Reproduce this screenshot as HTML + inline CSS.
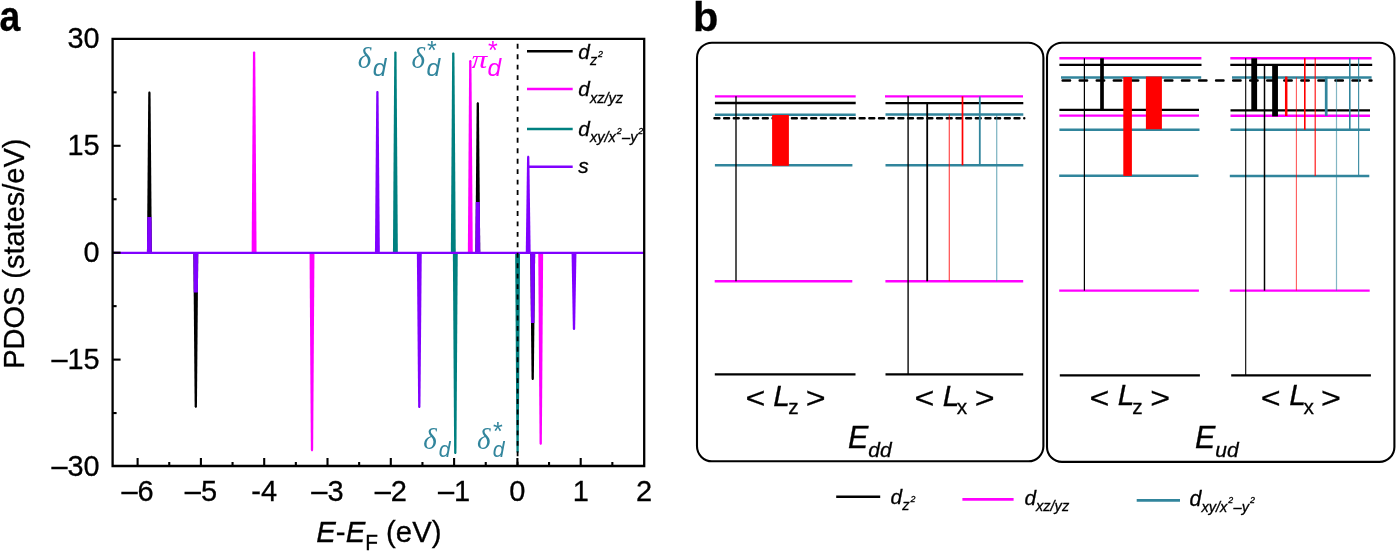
<!DOCTYPE html>
<html lang="en">
<head>
<meta charset="utf-8">
<title>PDOS and orbital angular momentum matrix elements</title>
<style>
html,body{margin:0;padding:0;background:#ffffff;}
body{width:1396px;height:551px;overflow:hidden;}
svg{display:block;}
svg{font-family:"Liberation Sans",sans-serif;fill:#000;}
</style>
</head>
<body>
<svg width="1396" height="551" viewBox="0 0 1396 551">
<rect x="0" y="0" width="1396" height="551" fill="#ffffff"/>
<g id="panel-a">
<polygon points="146.95,252.70 148.25,92.80 148.75,91.60 150.05,91.60 150.55,92.80 151.85,252.70" fill="#000000"/>
<polygon points="475.35,252.70 476.65,103.50 477.15,102.30 478.45,102.30 478.95,103.50 480.25,252.70" fill="#000000"/>
<polygon points="193.35,252.70 194.65,406.50 195.15,407.70 196.45,407.70 196.95,406.50 198.25,252.70" fill="#000000"/>
<polygon points="530.25,252.70 531.55,378.80 532.05,380.00 533.35,380.00 533.85,378.80 535.15,252.70" fill="#000000"/>
<polygon points="251.65,252.70 252.95,52.60 253.45,51.40 254.75,51.40 255.25,52.60 256.55,252.70" fill="#ff00ff"/>
<polygon points="467.85,252.70 469.15,61.20 469.65,60.00 470.95,60.00 471.45,61.20 472.75,252.70" fill="#ff00ff"/>
<polygon points="309.55,252.70 310.85,450.10 311.35,451.30 312.65,451.30 313.15,450.10 314.45,252.70" fill="#ff00ff"/>
<polygon points="538.25,252.70 539.55,443.50 540.05,444.70 541.35,444.70 541.85,443.50 543.15,252.70" fill="#ff00ff"/>
<polygon points="392.95,252.70 394.25,52.60 394.75,51.40 396.05,51.40 396.55,52.60 397.85,252.70" fill="#008080"/>
<polygon points="450.85,252.70 452.15,53.60 452.65,52.40 453.95,52.40 454.45,53.60 455.75,252.70" fill="#008080"/>
<polygon points="452.85,252.70 454.15,452.80 454.65,454.00 455.95,454.00 456.45,452.80 457.75,252.70" fill="#008080"/>
<polygon points="515.15,252.70 516.45,451.70 516.95,452.90 518.25,452.90 518.75,451.70 520.05,252.70" fill="#008080"/>
<polygon points="146.95,252.70 147.24,217.00 151.56,217.00 151.85,252.70" fill="#8000ff"/>
<polygon points="475.35,252.70 475.79,202.00 479.81,202.00 480.25,252.70" fill="#8000ff"/>
<polygon points="374.95,252.70 376.25,92.10 376.75,90.90 378.05,90.90 378.55,92.10 379.85,252.70" fill="#8000ff"/>
<polygon points="525.75,252.70 527.05,157.00 527.55,155.80 528.85,155.80 529.35,157.00 530.65,252.70" fill="#8000ff"/>
<polygon points="193.35,252.70 193.69,292.50 197.91,292.50 198.25,252.70" fill="#8000ff"/>
<polygon points="530.25,252.70 530.97,323.00 534.43,323.00 535.15,252.70" fill="#8000ff"/>
<polygon points="416.85,252.70 418.15,406.80 418.65,408.00 419.95,408.00 420.45,406.80 421.75,252.70" fill="#8000ff"/>
<polygon points="571.55,252.70 572.85,328.80 573.35,330.00 574.65,330.00 575.15,328.80 576.45,252.70" fill="#8000ff"/>
<line x1="112.6" y1="252.79999999999998" x2="644.2" y2="252.79999999999998" stroke="#8000ff" stroke-width="2.2"/>
<line x1="517.6" y1="43.8" x2="517.6" y2="466.0" stroke="#000" stroke-width="1.8" stroke-dasharray="4.9 5.55"/>
<path d="M112.6,466.0 L112.6,38.8 L644.2,38.8 L644.2,466.0 Z" fill="none" stroke="#000" stroke-width="2.3"/>
<line x1="137.60" y1="466.0" x2="137.60" y2="458.0" stroke="#000" stroke-width="2.1"/>
<line x1="200.90" y1="466.0" x2="200.90" y2="458.0" stroke="#000" stroke-width="2.1"/>
<line x1="264.20" y1="466.0" x2="264.20" y2="458.0" stroke="#000" stroke-width="2.1"/>
<line x1="327.50" y1="466.0" x2="327.50" y2="458.0" stroke="#000" stroke-width="2.1"/>
<line x1="390.80" y1="466.0" x2="390.80" y2="458.0" stroke="#000" stroke-width="2.1"/>
<line x1="454.10" y1="466.0" x2="454.10" y2="458.0" stroke="#000" stroke-width="2.1"/>
<line x1="517.40" y1="466.0" x2="517.40" y2="458.0" stroke="#000" stroke-width="2.1"/>
<line x1="580.70" y1="466.0" x2="580.70" y2="458.0" stroke="#000" stroke-width="2.1"/>
<line x1="169.25" y1="466.0" x2="169.25" y2="462.0" stroke="#000" stroke-width="2.1"/>
<line x1="232.55" y1="466.0" x2="232.55" y2="462.0" stroke="#000" stroke-width="2.1"/>
<line x1="295.85" y1="466.0" x2="295.85" y2="462.0" stroke="#000" stroke-width="2.1"/>
<line x1="359.15" y1="466.0" x2="359.15" y2="462.0" stroke="#000" stroke-width="2.1"/>
<line x1="422.45" y1="466.0" x2="422.45" y2="462.0" stroke="#000" stroke-width="2.1"/>
<line x1="485.75" y1="466.0" x2="485.75" y2="462.0" stroke="#000" stroke-width="2.1"/>
<line x1="549.05" y1="466.0" x2="549.05" y2="462.0" stroke="#000" stroke-width="2.1"/>
<line x1="612.35" y1="466.0" x2="612.35" y2="462.0" stroke="#000" stroke-width="2.1"/>
<line x1="112.6" y1="359.61" x2="120.6" y2="359.61" stroke="#000" stroke-width="2.1"/>
<line x1="112.6" y1="252.70" x2="120.6" y2="252.70" stroke="#000" stroke-width="2.1"/>
<line x1="112.6" y1="145.79" x2="120.6" y2="145.79" stroke="#000" stroke-width="2.1"/>
<line x1="112.6" y1="413.06" x2="116.6" y2="413.06" stroke="#000" stroke-width="2.1"/>
<line x1="112.6" y1="306.15" x2="116.6" y2="306.15" stroke="#000" stroke-width="2.1"/>
<line x1="112.6" y1="199.25" x2="116.6" y2="199.25" stroke="#000" stroke-width="2.1"/>
<line x1="112.6" y1="92.34" x2="116.6" y2="92.34" stroke="#000" stroke-width="2.1"/>
<text x="137.60" y="500.8" font-size="29.0" text-anchor="middle" stroke="#000" stroke-width="0.3">–6</text>
<text x="200.90" y="500.8" font-size="29.0" text-anchor="middle" stroke="#000" stroke-width="0.3">–5</text>
<text x="264.20" y="500.8" font-size="29.0" text-anchor="middle" stroke="#000" stroke-width="0.3">-4</text>
<text x="327.50" y="500.8" font-size="29.0" text-anchor="middle" stroke="#000" stroke-width="0.3">–3</text>
<text x="390.80" y="500.8" font-size="29.0" text-anchor="middle" stroke="#000" stroke-width="0.3">–2</text>
<text x="454.10" y="500.8" font-size="29.0" text-anchor="middle" stroke="#000" stroke-width="0.3">–1</text>
<text x="517.40" y="500.8" font-size="29.0" text-anchor="middle" stroke="#000" stroke-width="0.3">0</text>
<text x="580.70" y="500.8" font-size="29.0" text-anchor="middle" stroke="#000" stroke-width="0.3">1</text>
<text x="644.00" y="500.8" font-size="29.0" text-anchor="middle" stroke="#000" stroke-width="0.3">2</text>
<text transform="translate(99.6,47.80) scale(0.975,1)" font-size="29.6" text-anchor="end" stroke="#000" stroke-width="0.3">30</text>
<text transform="translate(99.6,154.90) scale(0.975,1)" font-size="29.6" text-anchor="end" stroke="#000" stroke-width="0.3">15</text>
<text transform="translate(99.6,262.00) scale(0.975,1)" font-size="29.6" text-anchor="end" stroke="#000" stroke-width="0.3">0</text>
<text transform="translate(99.6,369.10) scale(0.975,1)" font-size="29.6" text-anchor="end" stroke="#000" stroke-width="0.3">–15</text>
<text transform="translate(99.6,476.20) scale(0.975,1)" font-size="29.6" text-anchor="end" stroke="#000" stroke-width="0.3">–30</text>
<text transform="translate(24.2,368.8) rotate(-90) scale(0.953,1)" font-size="30.4" stroke="#000" stroke-width="0.3">PDOS (states/eV)</text>
<text transform="translate(316.3,542) scale(0.965,1)" font-size="30.4" stroke="#000" stroke-width="0.3"><tspan font-style="italic">E</tspan>-<tspan font-style="italic">E</tspan><tspan font-size="21.6" dy="7.8">F</tspan><tspan dy="-7.8"> (eV)</tspan></text>
<text transform="translate(-0.6,31.0) scale(0.9,1.03)" font-size="41.5" font-weight="bold" stroke="#000" stroke-width="0.3">a</text>
<line x1="527" y1="51.3" x2="572.7" y2="51.3" stroke="#000000" stroke-width="2.4"/>
<line x1="527" y1="89.0" x2="572.7" y2="89.0" stroke="#ff00ff" stroke-width="2.4"/>
<line x1="527" y1="129.0" x2="572.7" y2="129.0" stroke="#008080" stroke-width="2.4"/>
<line x1="527" y1="166.7" x2="572.7" y2="166.7" stroke="#8000ff" stroke-width="2.4"/>
<text x="578.3" y="59" font-size="20.8" font-style="italic" stroke="#000" stroke-width="0.3">d<tspan font-size="14.6" dy="6.3">z</tspan><tspan font-size="8.8" dy="-8" dx="0.9">2</tspan></text>
<text x="578.3" y="96.2" font-size="20.8" font-style="italic" stroke="#000" stroke-width="0.3">d<tspan font-size="14.6" dy="6.3">xz/yz</tspan></text>
<text x="578.3" y="135.9" font-size="20.8" font-style="italic" stroke="#000" stroke-width="0.3">d<tspan font-size="14.6" dy="6.3">xy/x</tspan><tspan font-size="8.8" dy="-8" dx="0.9">2</tspan><tspan font-size="14.6" dy="8" dx="0.4">–y</tspan><tspan font-size="8.8" dy="-8" dx="0.9">2</tspan></text>
<text x="578.3" y="173.4" font-size="20.8" font-style="italic" stroke="#000" stroke-width="0.3">s</text>
<text x="357.8" y="67.8" font-family="'Liberation Serif', serif" font-style="italic" font-size="29" fill="#31859c">δ</text>
<text x="372.8" y="76.3" font-size="24.5" font-style="italic" fill="#31859c">d</text>
<text x="411.4" y="67.8" font-family="'Liberation Serif', serif" font-style="italic" font-size="29" fill="#31859c">δ</text>
<text x="426.59999999999997" y="76.3" font-size="24.5" font-style="italic" fill="#31859c">d</text>
<text x="426.9" y="59.4" font-size="25" fill="#31859c">*</text>
<text transform="translate(471.4,67.8) scale(1.08,0.86)" font-family="'Liberation Serif', serif" font-style="italic" font-size="29" fill="#ff00ff">π</text>
<text x="487.59999999999997" y="76.3" font-size="24.5" font-style="italic" fill="#ff00ff">d</text>
<text x="487.9" y="59.4" font-size="25" fill="#ff00ff">*</text>
<text x="423.3" y="448.7" font-family="'Liberation Serif', serif" font-style="italic" font-size="29" fill="#31859c">δ</text>
<text x="438.8" y="456.9" font-size="21.2" font-style="italic" fill="#31859c">d</text>
<text x="477.0" y="448.7" font-family="'Liberation Serif', serif" font-style="italic" font-size="29" fill="#31859c">δ</text>
<text x="492.8" y="456.9" font-size="21.2" font-style="italic" fill="#31859c">d</text>
<text x="493.1" y="439.5" font-size="25" fill="#31859c">*</text>
</g>
<g id="panel-b">
<text x="693.0" y="31.0" font-size="41.5" font-weight="bold" stroke="#000" stroke-width="0.3">b</text>
<rect x="697" y="42.7" width="346.4" height="418.6" rx="15" ry="15" fill="none" stroke="#000" stroke-width="2.1"/>
<rect x="1047" y="42.7" width="347.4" height="419.2" rx="15" ry="15" fill="none" stroke="#000" stroke-width="2.1"/>
<line x1="714.9" y1="96.35" x2="855.7" y2="96.35" stroke="#ff00ff" stroke-width="2.45"/>
<line x1="714.9" y1="103.0" x2="855.7" y2="103.0" stroke="#000000" stroke-width="2.3"/>
<line x1="714.9" y1="114.8" x2="855.7" y2="114.8" stroke="#31859c" stroke-width="2.45"/>
<line x1="714.9" y1="165.2" x2="852.4" y2="165.2" stroke="#31859c" stroke-width="2.45"/>
<line x1="714.7" y1="281.3" x2="852.3" y2="281.3" stroke="#ff00ff" stroke-width="2.45"/>
<line x1="714.8" y1="374.4" x2="855.5" y2="374.4" stroke="#000000" stroke-width="2.3"/>
<line x1="885.0" y1="96.35" x2="1023.0" y2="96.35" stroke="#ff00ff" stroke-width="2.45"/>
<line x1="885.5" y1="103.1" x2="1023.3" y2="103.1" stroke="#000000" stroke-width="2.3"/>
<line x1="885.5" y1="114.5" x2="1023.3" y2="114.5" stroke="#31859c" stroke-width="2.45"/>
<line x1="885.5" y1="165.3" x2="1023.3" y2="165.3" stroke="#31859c" stroke-width="2.45"/>
<line x1="885.4" y1="281.3" x2="1023.2" y2="281.3" stroke="#ff00ff" stroke-width="2.45"/>
<line x1="885.5" y1="374.4" x2="1023.2" y2="374.4" stroke="#000000" stroke-width="2.3"/>
<line x1="714.45" y1="118.3" x2="1024.3" y2="118.3" stroke="#000" stroke-width="2.4" stroke-linecap="round" stroke-dasharray="4.95 4.73"/>
<rect x="772.1" y="115.0" width="16.80" height="50.80" fill="#ff0000"/>
<line x1="736.0" y1="96.35" x2="736.0" y2="281.3" stroke="#000" stroke-width="1.35"/>
<line x1="908.1" y1="96.35" x2="908.1" y2="374.4" stroke="#000" stroke-width="1.35"/>
<line x1="927.2" y1="103.1" x2="927.2" y2="281.3" stroke="#000000" stroke-width="1.8"/>
<line x1="949.3" y1="114.5" x2="949.3" y2="281.3" stroke="#ff0000" stroke-width="1.2" stroke-opacity="0.7"/>
<line x1="962.5" y1="96.35" x2="962.5" y2="165.3" stroke="#ff0000" stroke-width="1.7"/>
<line x1="979.8" y1="96.35" x2="979.8" y2="165.3" stroke="#31859c" stroke-width="1.8"/>
<line x1="996.7" y1="114.5" x2="996.7" y2="281.3" stroke="#31859c" stroke-width="1.3" stroke-opacity="0.6"/>
<line x1="1059.4" y1="58.3" x2="1201.4" y2="58.3" stroke="#ff00ff" stroke-width="2.45"/>
<line x1="1059.4" y1="64.9" x2="1201.5" y2="64.9" stroke="#000000" stroke-width="2.3"/>
<line x1="1061.0" y1="77.4" x2="1201.2" y2="77.4" stroke="#31859c" stroke-width="2.45"/>
<line x1="1059.4" y1="109.8" x2="1199.0" y2="109.8" stroke="#000000" stroke-width="2.3"/>
<line x1="1059.4" y1="115.6" x2="1199.0" y2="115.6" stroke="#ff00ff" stroke-width="2.45"/>
<line x1="1059.4" y1="129.7" x2="1199.5" y2="129.7" stroke="#31859c" stroke-width="2.45"/>
<line x1="1059.2" y1="175.7" x2="1198.5" y2="175.7" stroke="#31859c" stroke-width="2.45"/>
<line x1="1059.2" y1="290.6" x2="1198.9" y2="290.6" stroke="#ff00ff" stroke-width="2.45"/>
<line x1="1059.8" y1="375.3" x2="1199.9" y2="375.3" stroke="#000000" stroke-width="2.3"/>
<line x1="1230.3" y1="58.3" x2="1371.6" y2="58.3" stroke="#ff00ff" stroke-width="2.45"/>
<line x1="1230.3" y1="64.9" x2="1372.2" y2="64.9" stroke="#000000" stroke-width="2.3"/>
<line x1="1232.0" y1="77.5" x2="1371.6" y2="77.5" stroke="#31859c" stroke-width="2.45"/>
<line x1="1230.5" y1="110.3" x2="1370.0" y2="110.3" stroke="#000000" stroke-width="2.3"/>
<line x1="1230.5" y1="115.8" x2="1370.0" y2="115.8" stroke="#ff00ff" stroke-width="2.45"/>
<line x1="1230.5" y1="129.7" x2="1370.0" y2="129.7" stroke="#31859c" stroke-width="2.45"/>
<line x1="1229.8" y1="176.0" x2="1369.3" y2="176.0" stroke="#31859c" stroke-width="2.45"/>
<line x1="1229.8" y1="290.6" x2="1369.7" y2="290.6" stroke="#ff00ff" stroke-width="2.45"/>
<line x1="1231.2" y1="375.3" x2="1370.9" y2="375.3" stroke="#000000" stroke-width="2.3"/>
<line x1="1062.6" y1="80.55" x2="1371.5" y2="80.55" stroke="#000" stroke-width="2.4" stroke-linecap="round" stroke-dasharray="7.5 9.55"/>
<line x1="1084.4" y1="58.3" x2="1084.4" y2="290.6" stroke="#000" stroke-width="1.25"/>
<line x1="1102.0" y1="58.3" x2="1102.0" y2="109.8" stroke="#000000" stroke-width="3.7"/>
<rect x="1123.3" y="77.0" width="8.60" height="98.90" fill="#ff0000"/>
<rect x="1145.9" y="76.5" width="16.00" height="52.70" fill="#ff0000"/>
<line x1="1245.7" y1="58.3" x2="1245.7" y2="375.3" stroke="#000000" stroke-width="1.1"/>
<line x1="1254.2" y1="58.3" x2="1254.2" y2="110.3" stroke="#000000" stroke-width="5.8"/>
<line x1="1264.5" y1="64.9" x2="1264.5" y2="290.6" stroke="#000000" stroke-width="1.5"/>
<line x1="1275.05" y1="64.9" x2="1275.05" y2="116.4" stroke="#000000" stroke-width="5.8"/>
<line x1="1286.2" y1="76.6" x2="1286.2" y2="116.0" stroke="#ff0000" stroke-width="2.5"/>
<line x1="1296.4" y1="77.4" x2="1296.4" y2="290.6" stroke="#ff0000" stroke-width="1.1" stroke-opacity="0.65"/>
<line x1="1304.8" y1="58.3" x2="1304.8" y2="129.7" stroke="#ff0000" stroke-width="1.6"/>
<line x1="1315.2" y1="58.3" x2="1315.2" y2="176.0" stroke="#ff0000" stroke-width="1.2" stroke-opacity="0.9"/>
<line x1="1326.2" y1="76.6" x2="1326.2" y2="116.0" stroke="#31859c" stroke-width="2.7"/>
<line x1="1336.5" y1="77.4" x2="1336.5" y2="290.6" stroke="#31859c" stroke-width="1.2" stroke-opacity="0.6"/>
<line x1="1349.8" y1="58.3" x2="1349.8" y2="129.7" stroke="#31859c" stroke-width="1.6"/>
<line x1="1358.6" y1="58.3" x2="1358.6" y2="176.0" stroke="#31859c" stroke-width="1.2" stroke-opacity="0.9"/>
<text transform="translate(745.50,407.9) scale(1.12,1)" font-size="30.4" stroke="#000" stroke-width="0.3">&lt;</text>
<text x="773.30" y="405.7" font-size="29.8" font-style="italic" stroke="#000" stroke-width="0.3">L</text>
<text x="788.30" y="413.8" font-size="20.8" stroke="#000" stroke-width="0.3">z</text>
<text transform="translate(805.80,407.9) scale(1.12,1)" font-size="30.4" stroke="#000" stroke-width="0.3">&gt;</text>
<text transform="translate(914.60,407.9) scale(1.12,1)" font-size="30.4" stroke="#000" stroke-width="0.3">&lt;</text>
<text x="942.70" y="405.7" font-size="29.8" font-style="italic" stroke="#000" stroke-width="0.3">L</text>
<text x="956.80" y="413.8" font-size="20.8" stroke="#000" stroke-width="0.3">x</text>
<text transform="translate(974.80,407.9) scale(1.12,1)" font-size="30.4" stroke="#000" stroke-width="0.3">&gt;</text>
<text transform="translate(1089.60,407.59999999999997) scale(1.12,1)" font-size="30.4" stroke="#000" stroke-width="0.3">&lt;</text>
<text x="1117.70" y="405.4" font-size="29.8" font-style="italic" stroke="#000" stroke-width="0.3">L</text>
<text x="1132.30" y="413.5" font-size="20.8" stroke="#000" stroke-width="0.3">z</text>
<text transform="translate(1150.20,407.59999999999997) scale(1.12,1)" font-size="30.4" stroke="#000" stroke-width="0.3">&gt;</text>
<text transform="translate(1260.80,407.59999999999997) scale(1.12,1)" font-size="30.4" stroke="#000" stroke-width="0.3">&lt;</text>
<text x="1289.20" y="405.4" font-size="29.8" font-style="italic" stroke="#000" stroke-width="0.3">L</text>
<text x="1303.60" y="413.5" font-size="20.8" stroke="#000" stroke-width="0.3">x</text>
<text transform="translate(1321.10,407.59999999999997) scale(1.12,1)" font-size="30.4" stroke="#000" stroke-width="0.3">&gt;</text>
<text x="848.0" y="448.2" font-size="30.5" font-style="italic" stroke="#000" stroke-width="0.3">E<tspan font-size="21" dy="8.6">dd</tspan></text>
<text x="1195.0" y="448.2" font-size="30.5" font-style="italic" stroke="#000" stroke-width="0.3">E<tspan font-size="21" dy="8.6">ud</tspan></text>
<line x1="836.2" y1="496.8" x2="880.2" y2="496.8" stroke="#000000" stroke-width="2.4"/>
<line x1="962.4" y1="499.4" x2="1013.6" y2="499.4" stroke="#ff00ff" stroke-width="2.6"/>
<line x1="1136.7" y1="500.4" x2="1180.0" y2="500.4" stroke="#31859c" stroke-width="2.6"/>
<text x="890.6" y="503.6" font-size="20.8" font-style="italic" stroke="#000" stroke-width="0.3">d<tspan font-size="14.6" dy="6.1">z</tspan><tspan font-size="8.8" dy="-8" dx="0.9">2</tspan></text>
<text x="1024.4" y="505.1" font-size="20.8" font-style="italic" stroke="#000" stroke-width="0.3">d<tspan font-size="14.6" dy="5.9">xz/yz</tspan></text>
<text x="1189.6" y="506.3" font-size="21.3" font-style="italic" stroke="#000" stroke-width="0.3">d<tspan font-size="14.6" dy="5.8">xy/x</tspan><tspan font-size="8.8" dy="-9" dx="0.9">2</tspan><tspan font-size="14.6" dy="9" dx="0.4">–y</tspan><tspan font-size="8.8" dy="-9" dx="0.9">2</tspan></text>
</g>
</svg>
</body>
</html>
